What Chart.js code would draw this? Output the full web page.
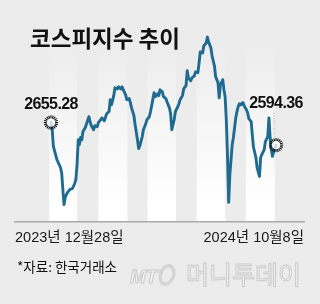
<!DOCTYPE html>
<html>
<head>
<meta charset="utf-8">
<script src="https://cdn.jsdelivr.net/npm/chart.js@4.4.1/dist/chart.umd.min.js"></script>
<style>
  html, body { margin: 0; padding: 0; background: #ececec; }
</style>
</head>
<body>
<canvas id="kospiChart" width="320" height="304"></canvas>
<script>
// DATA - trading day index (0 = 2023-12-28, 190 = 2024-10-08) and KOSPI close
const tradingDay = [0,1,2,5,8,9,10,11,12,13,
  14,16,18,19,20,21,22,23,24,25,
  26,27,29,30,32,33,34,36,37,39,
  40,42,43,45,47,49,50,51,53,54,
  56,57,59,60,61,63,64,66,67,68,
  70,71,73,74,75,77,78,80,81,83,
  84,85,87,88,90,91,92,94,95,97,
  98,100,101,102,104,105,107,108,109,111,
  112,114,115,116,118,119,121,122,124,125,
  126,128,129,131,132,133,135,136,138,139,
  141,142,143,145,146,147,148,149,150,151,
  152,153,154,155,156,157,158,159,160,162,
  163,165,166,167,169,170,171,173,174,176,
  177,178,180,181,183,184,185,186,187,188,
  189,190];
const kospi = [2655.28,2636,2591,2555,2534,2520,2475,2434,2453,2461,
  2467,2475,2477,2483,2491,2502,2542,2609,2596,2615,
  2609,2631,2642,2652,2671,2658,2647,2636,2647,2644,
  2655,2663,2668,2660,2679,2685,2717,2703,2728,2749,
  2746,2752,2746,2752,2744,2730,2717,2720,2709,2695,
  2674,2650,2609,2585,2593,2617,2636,2652,2663,2671,
  2685,2701,2736,2725,2733,2728,2744,2738,2725,2720,
  2711,2695,2679,2636,2663,2685,2698,2706,2717,2728,
  2746,2755,2795,2776,2768,2776,2781,2792,2790,2816,
  2846,2843,2862,2870,2886,2873,2857,2835,2808,2779,
  2763,2722,2757,2771,2744,2725,2663,2569,2440,2515,
  2555,2596,2615,2642,2668,2685,2698,2706,2703,2709,
  2701,2690,2682,2666,2658,2620,2588,2561,2534,2510,
  2561,2569,2582,2604,2617,2668,2615,2582,2564,2577,
  2585,2594.36];
const dateTicks = ['2023년 12월28일', '2024년 10월8일'];
// light month bands (Jan, Mar, May, Jul, Sep) in trading days
const bandFrom = [-1.5, 40, 81.5, 123, 164.5];
const bandTo = [22, 64.5, 105.5, 147, 189];

const title = '코스피지수 추이';
const source = '*자료: 한국거래소';
const BG = '#ececec';
const LINE = '#1f6a8f';
const NUM_FONT = '"Liberation Sans", Arial, "Noto Sans CJK KR", sans-serif';
const KR_FONT = '"Noto Sans CJK KR", "Noto Sans", sans-serif';

// dashed ring marker
function ring(ctx, x, y) {
  ctx.save();
  ctx.fillStyle = 'rgba(255,255,255,0.75)';
  ctx.beginPath();
  ctx.arc(x, y, 4.5, 0, Math.PI * 2);
  ctx.fill();
  ctx.strokeStyle = '#111';
  ctx.lineWidth = 1.1;
  for (let i = 0; i < 20; i++) {
    const a = i / 20 * Math.PI * 2;
    ctx.beginPath();
    ctx.moveTo(x + Math.cos(a) * 4.2, y + Math.sin(a) * 4.2);
    ctx.lineTo(x + Math.cos(a) * 7.2, y + Math.sin(a) * 7.2);
    ctx.stroke();
  }
  ctx.restore();
}

const decor = {
  id: 'decor',
  beforeDraw(chart) {
    const { ctx, chartArea: a, scales } = chart;
    ctx.save();
    ctx.fillStyle = BG;
    ctx.fillRect(0, 0, chart.width, chart.height);
    const g = ctx.createLinearGradient(0, 45, 0, 205);
    g.addColorStop(0, BG);
    g.addColorStop(1, '#ffffff');
    ctx.fillStyle = g;
    bandFrom.forEach((f, i) => {
      const x0 = scales.x.getPixelForValue(f);
      const x1 = scales.x.getPixelForValue(bandTo[i]);
      ctx.fillRect(x0, a.top, x1 - x0, a.bottom - a.top);
    });
    ctx.restore();
  },
  afterDatasetsDraw(chart) {
    const { ctx } = chart;
    const pts = chart.getDatasetMeta(0).data;
    const p0 = pts[0], p1 = pts[pts.length - 1];

    // dotted guide to last value
    ctx.save();
    ctx.strokeStyle = '#9a9a9a';
    ctx.lineWidth = 1;
    ctx.setLineDash([1, 1.5]);
    ctx.beginPath();
    ctx.moveTo(p1.x - 2, p1.y - 32);
    ctx.lineTo(p1.x - 2, p1.y - 8);
    ctx.stroke();
    ctx.restore();

    ring(ctx, p0.x, p0.y);
    ring(ctx, p1.x, p1.y);

    ctx.save();
    ctx.fillStyle = '#111';
    ctx.font = 'bold 16px ' + NUM_FONT;
    ctx.letterSpacing = '-0.6px';
    ctx.textAlign = 'center';
    ctx.textBaseline = 'alphabetic';
    ctx.fillText(kospi[0].toFixed(2), p0.x, p0.y - 14);
    ctx.fillText(kospi[kospi.length - 1].toFixed(2), p1.x, p1.y - 37);
    ctx.restore();
  },
  afterDraw(chart) {
    const { ctx } = chart;
    ctx.save();
    ctx.fillStyle = '#111';
    ctx.textAlign = 'left';
    ctx.textBaseline = 'alphabetic';
    ctx.font = 'bold 22.5px ' + KR_FONT;
    ctx.fillText(title, 30, 47);

    ctx.font = '13.5px ' + KR_FONT;
    ctx.fillText(source, 17, 272);

    // watermark
    ctx.fillStyle = '#f6f6f6';
    ctx.strokeStyle = '#c9c9c9';
    ctx.lineWidth = 1;
    ctx.font = 'italic bold 19px ' + NUM_FONT;
    ctx.fillText('MT', 130, 283);
    ctx.strokeText('MT', 130, 283);
    ctx.beginPath();
    ctx.ellipse(167, 275, 6.5, 9.5, 0.35, 0, Math.PI * 2);
    ctx.lineWidth = 3.5;
    ctx.strokeStyle = '#d4d4d4';
    ctx.stroke();
    ctx.lineWidth = 1;
    ctx.strokeStyle = '#c9c9c9';
    ctx.font = '25px ' + KR_FONT;
    ctx.fillText('머니투데이', 186, 284);
    ctx.strokeText('머니투데이', 186, 284);
    ctx.restore();
  }
};

const data = {
  datasets: [{
    label: 'KOSPI',
    data: tradingDay.map((d, i) => ({ x: d, y: kospi[i] })),
    borderColor: LINE,
    borderWidth: 2.9,
    borderJoinStyle: 'round',
    borderCapStyle: 'round',
    pointRadius: 0,
    tension: 0,
    fill: false
  }]
};

const config = {
  type: 'line',
  data,
  options: {
    responsive: false,
    animation: false,
    layout: { padding: { left: 15, right: 16, top: 0, bottom: 52 } },
    plugins: { legend: { display: false }, tooltip: { enabled: false } },
    scales: {
      x: {
        type: 'linear',
        min: -30.4,
        max: 213.6,
        grid: { display: false, drawTicks: false },
        border: { display: true, color: '#a9a9a9', width: 1.5 },
        afterBuildTicks: s => { s.ticks = [{ value: s.min }, { value: s.max }]; },
        afterFit: s => { s.height = 30; },
        ticks: {
          align: 'inner',
          autoSkip: false,
          maxRotation: 0,
          padding: 7,
          color: '#1a1a1a',
          font: { family: NUM_FONT, size: 14.5 },
          callback: (v, i) => dateTicks[i]
        }
      },
      y: {
        display: false,
        min: 2387,
        max: 2986
      }
    }
  },
  plugins: [decor]
};

const kospiChart = new Chart(document.getElementById('kospiChart'), config);
</script>
</body>
</html>
